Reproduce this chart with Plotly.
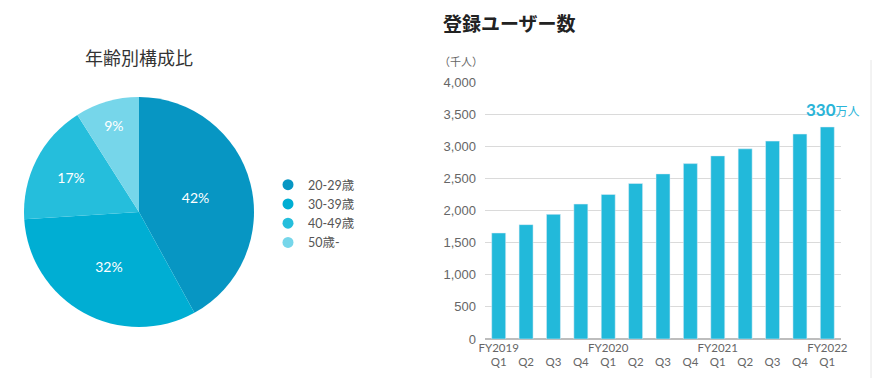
import plotly.graph_objects as go

# ---- data ----
age_groups = ["20-29歳", "30-39歳", "40-49歳", "50歳-"]
age_share = [42, 32, 17, 9]
age_colors = ["#0796C3", "#00AED3", "#25BEDC", "#76D6EA"]

quarters = ["Q1", "Q2", "Q3", "Q4", "Q1", "Q2", "Q3", "Q4", "Q1", "Q2", "Q3", "Q4", "Q1"]
fiscal_years = ["FY2019", "", "", "", "FY2020", "", "", "", "FY2021", "", "", "", "FY2022"]
users_k = [1650, 1780, 1940, 2100, 2250, 2420, 2570, 2730, 2850, 2960, 3080, 3190, 3300]
y_ticks = [0, 500, 1000, 1500, 2000, 2500, 3000, 3500, 4000]

bar_color = "#22B9DA"
W, H = 884, 382
latin = "Lato, 'Noto Sans CJK JP', sans-serif"
jp = "'Noto Sans CJK JP', sans-serif"

cats = [f"{i}" for i in range(len(quarters))]
ticktext = [f"{fy if fy else ' '}<br>{q}" for fy, q in zip(fiscal_years, quarters)]

fig = go.Figure()

fig.add_trace(go.Pie(
    labels=age_groups, values=age_share, sort=False, direction="clockwise", rotation=0,
    marker=dict(colors=age_colors, line=dict(width=0)),
    texttemplate="%{value}%", textposition="inside", insidetextorientation="horizontal",
    textfont=dict(color="white", size=14, family=latin),
    showlegend=False, hoverinfo="skip",
    domain=dict(x=[24 / W, 254 / W], y=[1 - 327 / H, 1 - 97 / H]),
))

fig.add_trace(go.Bar(
    x=cats, y=users_k, marker=dict(color=bar_color), showlegend=False, hoverinfo="skip",
))

for name, col in zip(age_groups, age_colors):
    fig.add_trace(go.Scatter(
        x=[None], y=[None], mode="markers", name=name,
        marker=dict(color=col, size=11, symbol="circle"),
    ))

fig.update_layout(
    width=W, height=H, margin=dict(l=0, r=0, t=0, b=0, autoexpand=False),
    paper_bgcolor="white", plot_bgcolor="white",
    bargap=0.49,
    legend=dict(x=268 / W, xanchor="left", y=1 - 170 / H, yanchor="top",
                font=dict(size=12.5, color="#555", family=latin),
                itemwidth=30, tracegroupgap=0, bgcolor="rgba(0,0,0,0)"),
    xaxis=dict(domain=[485 / W, 841 / W], type="category", range=[-0.5, len(cats) - 0.5],
               tickvals=cats, ticktext=ticktext, showgrid=False, ticks="", tickangle=0,
               automargin=False,
               tickfont=dict(size=11.5, color="#666", family=latin),
               showline=False, zeroline=False),
    yaxis=dict(domain=[1 - 339 / H, 1 - 82 / H], range=[0, 4000], tickvals=y_ticks,
               tickformat=",", showgrid=True, gridcolor="#DADADA", gridwidth=1,
               zeroline=True, zerolinecolor="#BDBDBD", zerolinewidth=1.5, automargin=False,
               tickfont=dict(size=13, color="#666", family="'Liberation Sans', Arial, sans-serif"),
               ticklabelstandoff=8),
    font=dict(family=jp),
)

fig.add_annotation(text="年齢別構成比", xref="paper", yref="paper", x=139 / W, y=1 - 57 / H,
                   xanchor="center", yanchor="middle", showarrow=False,
                   font=dict(size=18, color="#333", family=jp))
fig.add_annotation(text="<b>登録ユーザー数</b>", xref="paper", yref="paper", x=441 / W, y=1 - 23 / H,
                   xanchor="left", yanchor="middle", showarrow=False,
                   font=dict(size=19, color="#222", family=jp))
fig.add_annotation(text="（千人）", xref="paper", yref="paper", x=437 / W, y=1 - 61 / H,
                   xanchor="left", yanchor="middle", showarrow=False,
                   font=dict(size=11, color="#666", family=jp))
fig.add_annotation(text=f"<b>{users_k[-1] // 10}</b><span style='font-size:12px'>万人</span>",
                   x=cats[-1], y=users_k[-1], xref="x", yref="y",
                   xanchor="center", yanchor="bottom", yshift=5, xshift=6, showarrow=False,
                   font=dict(size=17, color="#2AB4D8", family=latin))
fig.add_shape(type="line", xref="paper", yref="paper", x0=871 / W, x1=871 / W,
              y0=1 - 378 / H, y1=1 - 60 / H, line=dict(color="#E6E6E6", width=1))

fig.write_html("out.html", config={"displayModeBar": False},
               post_script="document.body.style.margin='0';document.body.style.overflow='hidden';")
